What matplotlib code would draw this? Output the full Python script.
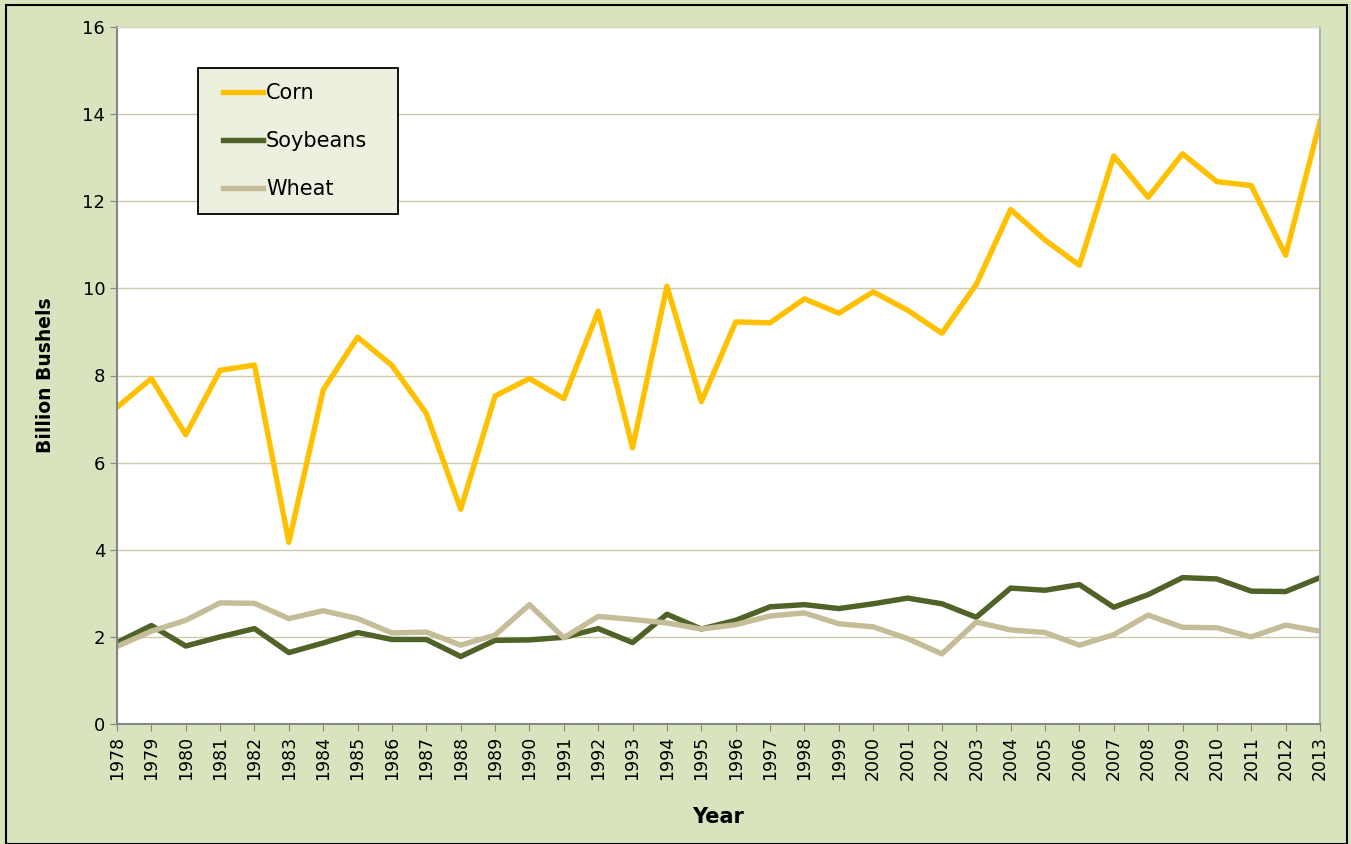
import matplotlib
matplotlib.use('Agg')
import matplotlib.pyplot as plt
from matplotlib.patches import Rectangle
import numpy as np

years = list(range(1978, 2014))

# billion bushels
corn = [7.27, 7.93, 6.64, 8.12, 8.24, 4.17, 7.67, 8.88, 8.23, 7.13,
        4.93, 7.53, 7.93, 7.47, 9.48, 6.34, 10.05, 7.40, 9.23, 9.21,
        9.76, 9.43, 9.92, 9.50, 8.97, 10.09, 11.81, 11.11, 10.53, 13.04,
        12.09, 13.09, 12.45, 12.36, 10.76, 13.83]
soybeans = [1.87, 2.26, 1.79, 2.00, 2.19, 1.64, 1.86, 2.10, 1.94, 1.94,
            1.55, 1.92, 1.93, 1.99, 2.19, 1.87, 2.52, 2.18, 2.38, 2.69,
            2.74, 2.65, 2.76, 2.89, 2.76, 2.45, 3.12, 3.07, 3.20, 2.68,
            2.97, 3.36, 3.33, 3.05, 3.04, 3.36]
wheat = [1.78, 2.13, 2.38, 2.78, 2.77, 2.42, 2.60, 2.42, 2.09, 2.11,
         1.81, 2.04, 2.74, 1.98, 2.47, 2.40, 2.32, 2.18, 2.28, 2.48,
         2.55, 2.30, 2.23, 1.96, 1.61, 2.34, 2.16, 2.10, 1.81, 2.05,
         2.50, 2.22, 2.21, 2.00, 2.27, 2.13]

bg = '#D7E4BD'
fig = plt.figure(figsize=(13.51, 8.44), dpi=100)
fig.patch.set_facecolor(bg)
# outer frame
fig.patches.append(Rectangle((6/1351, 0), 1341/1351, 1 - 5/844,
                             transform=fig.transFigure, fill=False,
                             edgecolor='black', linewidth=1.5))

ax = fig.add_axes([117/1351, 1 - 724/844, 1203/1351, 697/844])
ax.set_facecolor('white')

ax.plot(years, corn, color='#FFC000', lw=3.9, label='Corn', solid_joinstyle='round')
ax.plot(years, soybeans, color='#4F6228', lw=3.9, label='Soybeans', solid_joinstyle='round')
ax.plot(years, wheat, color='#C4BD97', lw=3.9, label='Wheat', solid_joinstyle='round')

ax.set_xlim(1978, 2013)
ax.set_ylim(0, 16)
ax.set_xticks(years)
ax.set_xticklabels([str(y) for y in years], rotation=90, fontsize=12.5)
ax.set_yticks(np.arange(0, 17, 2))
ax.tick_params(axis='y', labelsize=13, length=5, color='#868686', direction='out')
ax.tick_params(axis='x', length=5, color='#868686', direction='out')
ax.grid(axis='y', color='#CEC9A8', lw=1)
ax.set_axisbelow(True)
for s in ['left', 'bottom']:
    ax.spines[s].set_color('#868686')
    ax.spines[s].set_linewidth(1.5)
ax.spines['right'].set_color('#B0B0B0')
ax.spines['right'].set_linewidth(1.5)
ax.spines['top'].set_color('#DDD9C3')

ax.set_ylabel('Billion Bushels', fontsize=13.5, fontweight='bold', labelpad=20)
ax.set_xlabel('Year', fontsize=15, fontweight='bold', labelpad=19)

# legend box
x0 = (198 - 117) / 1203
y0 = (724 - 214) / 697
ax.add_patch(Rectangle((x0, y0), 200 / 1203, 146 / 697, transform=ax.transAxes,
                       facecolor='#EBF1DE', edgecolor='black', lw=1.3, zorder=5))
leg = ax.legend(loc='upper left', bbox_to_anchor=((227 - 117) / 1203 - 0.003, (724 - 83) / 697),
                frameon=False, fontsize=15, handlelength=1.9, handletextpad=0.15,
                labelspacing=1.35, borderpad=0, borderaxespad=0)
leg.set_zorder(6)

fig.savefig('out.png', dpi=100, facecolor=bg)
